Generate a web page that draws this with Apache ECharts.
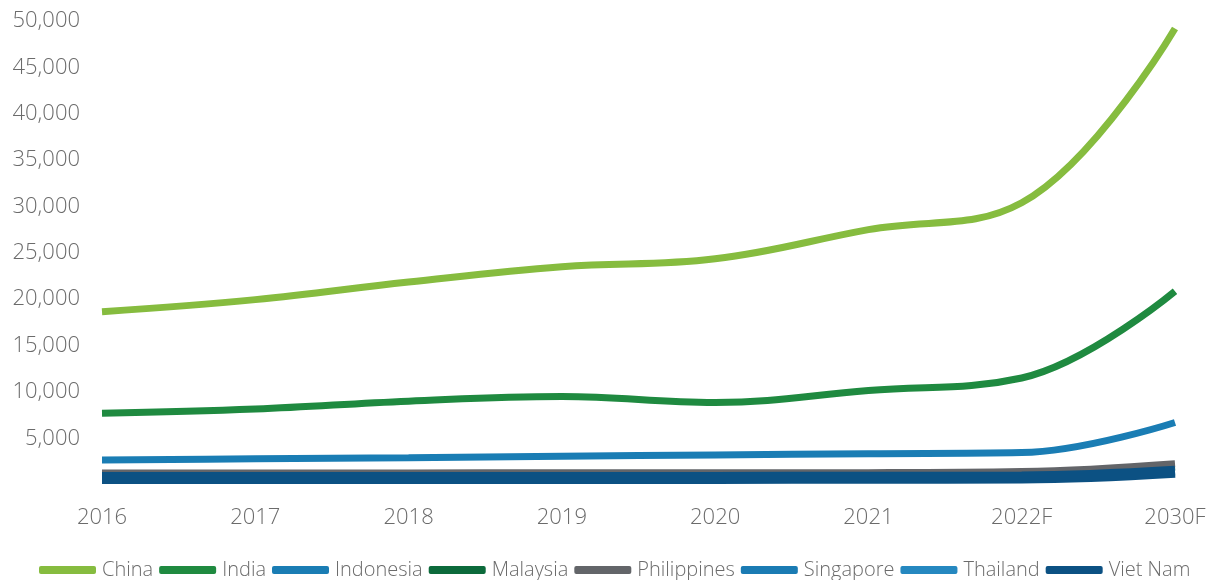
<!DOCTYPE html>
<html>
<head>
<meta charset="utf-8">
<script src="https://cdn.jsdelivr.net/npm/echarts@6/dist/echarts.min.js"></script>
<style>
html,body{margin:0;padding:0;background:#fff;}
#c{width:1213px;height:580px;}
</style>
</head>
<body>
<div id="c"></div>
<script>
const categories = ['2016','2017','2018','2019','2020','2021','2022F','2030F'];
const china       = [18650, 19950, 21850, 23500, 24350, 27500, 30400, 49200];
const india       = [7700, 8150, 9000, 9500, 8850, 10150, 11500, 20850];
const indonesia   = [2650, 2780, 2900, 3050, 3200, 3330, 3450, 6700];
const malaysia    = [950, 950, 950, 960, 960, 970, 1000, 1900];
const philippines = [1250, 1250, 1260, 1270, 1280, 1290, 1400, 2250];
const singapore   = [850, 850, 860, 860, 870, 870, 900, 1450];
const thailand    = [750, 750, 750, 760, 760, 770, 800, 1300];
const vietnam     = [720, 720, 720, 725, 725, 730, 760, 1380];
const yTicks = [0, 50000, 5000];

const names = ['China','India','Indonesia','Malaysia','Philippines','Singapore','Thailand','Viet Nam'];
const dataSets = [china, india, indonesia, malaysia, philippines, singapore, thailand, vietnam];
const colors = ['#86bc3f','#1f8a40','#1a7db4','#0c6a3b','#636569','#1a7bb3','#2588c0','#0c5183'];
const widths = [7, 7, 7, 7, 7, 7, 7, 12];

const chart = echarts.init(document.getElementById('c'), null, {renderer:'canvas'});
chart.setOption({
  animation: false,
  color: colors,
  grid: {left: 102, right: 38, top: 21, bottom: 95.4, containLabel: false},
  xAxis: {
    type: 'category',
    data: categories,
    boundaryGap: false,
    axisLine: {show: false},
    axisTick: {show: false},
    axisLabel: {color: '#6b6b6b', fontFamily: 'Open Sans', fontWeight: 300, fontSize: 22, margin: 22}
  },
  yAxis: {
    type: 'value',
    min: yTicks[0], max: yTicks[1], interval: yTicks[2],
    axisLine: {show: false},
    axisTick: {show: false},
    splitLine: {show: false},
    axisLabel: {
      showMinLabel: false,
      color: '#6b6b6b', fontFamily: 'Open Sans', fontWeight: 300, fontSize: 22, margin: 22,
      formatter: v => v.toLocaleString('en-US')
    }
  },
  legend: {
    left: 34, top: 555,
    icon: 'roundRect',
    itemWidth: 57, itemHeight: 8, itemGap: 6,
    textStyle: {color: '#6b6b6b', fontFamily: 'Open Sans', fontWeight: 300, fontSize: 20, padding: [0,0,0,1]},
    data: names
  },
  series: names.map((n, i) => ({
    name: n,
    type: 'line',
    data: dataSets[i],
    smooth: 0.4,
    showSymbol: false,
    symbol: 'none',
    lineStyle: {width: widths[i], color: colors[i], cap: 'butt'},
    itemStyle: {color: colors[i]}
  }))
});
</script>
</body>
</html>
